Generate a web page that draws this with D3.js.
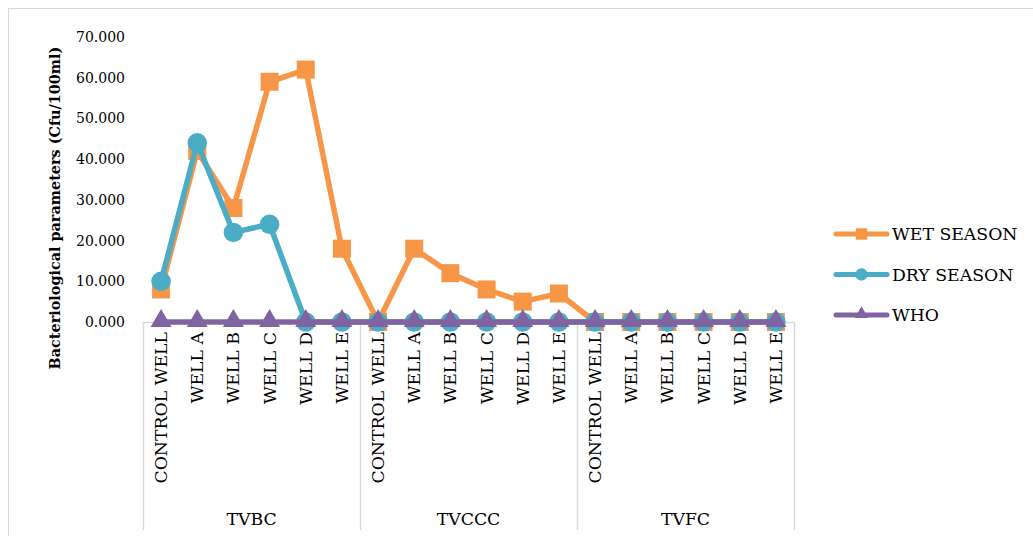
<!DOCTYPE html>
<html>
<head>
<meta charset="utf-8">
<script src="https://cdn.jsdelivr.net/npm/d3@7"></script>
<style>
  html, body { margin: 0; padding: 0; background: #fff; }
  svg text { font-family: "DejaVu Serif", "Liberation Serif", serif; fill: #000; }
</style>
</head>
<body>
<svg id="chart" width="1033" height="536"></svg>
<script>
// Sampling sites, grouped by community
const groups = ["TVBC", "TVCCC", "TVFC"];
const wells = ["CONTROL WELL", "WELL A", "WELL B", "WELL C", "WELL D", "WELL E"];

// Bacteriological counts (Cfu/100ml), in the same order as groups x wells
const wetSeason = [8, 42, 28, 59, 62, 18,  0, 18, 12, 8, 5, 7,  0, 0, 0, 0, 0, 0];
const drySeason = [10, 44, 22, 24, 0, 0,   0, 0, 0, 0, 0, 0,   0, 0, 0, 0, 0, 0];
const whoLimit  = [0, 0, 0, 0, 0, 0,       0, 0, 0, 0, 0, 0,   0, 0, 0, 0, 0, 0];

const yTicks = [0, 10, 20, 30, 40, 50, 60, 70];

const seriesList = [
  { name: "WET SEASON", values: wetSeason, color: "#F79646", marker: "square" },
  { name: "DRY SEASON", values: drySeason, color: "#4BACC6", marker: "circle" },
  { name: "WHO",        values: whoLimit,  color: "#8064A2", marker: "triangle" }
];

const FONT = '"DejaVu Serif", "Liberation Serif", serif';
const FS_TICK = 14;
const FS_CAT = 17.3;
const FS_TITLE = 14.4;

const svg = d3.select("#chart");

// outer chart frame
svg.append("rect")
  .attr("x", 8.5).attr("y", 8.5).attr("width", 1040).attr("height", 540)
  .attr("fill", "none").attr("stroke", "#d9d9d9").attr("stroke-width", 1);

const plot = { left: 143, right: 794, top: 37, bottom: 322 };

const keys = [];
groups.forEach(g => wells.forEach(w => keys.push(g + "|" + w)));

const x = d3.scaleBand().domain(keys).range([plot.left, plot.right]);
const y = d3.scaleLinear().domain([0, 70]).range([plot.bottom, plot.top]);

// y axis tick labels
const yAxis = d3.axisLeft(y).tickValues(yTicks).tickFormat(d3.format(".3f")).tickSize(0).tickPadding(0);
const yg = svg.append("g").attr("transform", `translate(${plot.left - 18},0)`).call(yAxis);
yg.attr("font-family", null).attr("font-size", null);
yg.select(".domain").remove();
yg.selectAll("text").attr("font-size", FS_TICK)
  .style("font-family", FONT).attr("fill", "#000");

// y axis title
svg.append("text")
  .attr("transform", `translate(60,208) rotate(-90)`)
  .attr("text-anchor", "middle")
  .attr("font-size", FS_TITLE).attr("font-weight", "bold")
  .text("Bacteriological parameters (Cfu/100ml)");

// category axis: baseline, group separators, labels
const axisColor = "#d9d9d9";
svg.append("line")
  .attr("x1", plot.left).attr("x2", plot.right)
  .attr("y1", plot.bottom + 0.5).attr("y2", plot.bottom + 0.5)
  .attr("stroke", axisColor).attr("stroke-width", 1.5);

const groupBounds = groups.map(g => {
  const first = x(g + "|" + wells[0]);
  const last = x(g + "|" + wells[wells.length - 1]) + x.bandwidth();
  return { g, first, last };
});
const sepX = [groupBounds[0].first].concat(groupBounds.map(b => b.last));
svg.selectAll("line.sep").data(sepX).enter().append("line")
  .attr("class", "sep")
  .attr("x1", d => Math.round(d) + 0.5).attr("x2", d => Math.round(d) + 0.5)
  .attr("y1", plot.bottom).attr("y2", 530)
  .attr("stroke", axisColor).attr("stroke-width", 1.5);

svg.selectAll("text.cat").data(keys).enter().append("text")
  .attr("class", "cat")
  .attr("transform", d => `translate(${x(d) + x.bandwidth() / 2 + 6},${plot.bottom + 10}) rotate(-90)`)
  .attr("text-anchor", "end")
  .attr("font-size", FS_CAT)
  .text(d => d.split("|")[1]);

svg.selectAll("text.grp").data(groupBounds).enter().append("text")
  .attr("class", "grp")
  .attr("x", d => (d.first + d.last) / 2)
  .attr("y", 525)
  .attr("text-anchor", "middle")
  .attr("font-size", FS_CAT)
  .text(d => d.g);

// marker shapes
const symbolFor = {
  square: d3.symbol().type(d3.symbolSquare).size(324),
  circle: d3.symbol().type(d3.symbolCircle).size(300),
  triangle: d3.symbol().type(d3.symbolTriangle).size(190)
};

const line = d3.line()
  .x((d, i) => x(keys[i]) + x.bandwidth() / 2)
  .y(d => y(d));

seriesList.forEach(s => {
  const g = svg.append("g");
  g.append("path")
    .datum(s.values)
    .attr("d", line)
    .attr("fill", "none")
    .attr("stroke", s.color)
    .attr("stroke-width", 5.5)
    .attr("stroke-linejoin", "round");
  g.selectAll("path.mk").data(s.values).enter().append("path")
    .attr("class", "mk")
    .attr("transform", (d, i) => `translate(${x(keys[i]) + x.bandwidth() / 2},${y(d) - (s.marker === "triangle" ? 1 : 0)})`)
    .attr("d", symbolFor[s.marker])
    .attr("fill", s.color);
});

// legend
const legendSymbol = {
  square: d3.symbol().type(d3.symbolSquare).size(130),
  circle: d3.symbol().type(d3.symbolCircle).size(120),
  triangle: d3.symbol().type(d3.symbolTriangle).size(80)
};
const legend = svg.append("g");
seriesList.forEach((s, i) => {
  const ly = 234 + i * 40.5;
  legend.append("line")
    .attr("x1", 836).attr("x2", 887).attr("y1", ly).attr("y2", ly)
    .attr("stroke", s.color).attr("stroke-width", 5).attr("stroke-linecap", "round");
  legend.append("path")
    .attr("transform", `translate(861.5,${ly - (s.marker === "triangle" ? 1 : 0)})`)
    .attr("d", legendSymbol[s.marker])
    .attr("fill", s.color);
  legend.append("text")
    .attr("x", 892).attr("y", ly + 6)
    .attr("font-size", FS_CAT)
    .text(s.name);
});
</script>
</body>
</html>
